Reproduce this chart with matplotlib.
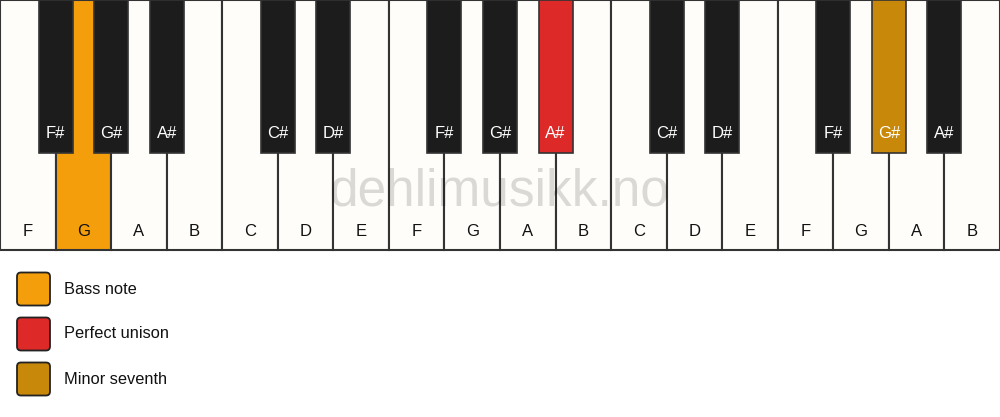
import matplotlib
matplotlib.use("Agg")
import matplotlib.pyplot as plt
from matplotlib.patches import Rectangle, FancyBboxPatch

plt.rcParams["font.family"] = ["Liberation Sans", "DejaVu Sans"]

W, H = 1000, 417

# ---------------------------------------------------------------- data
WHITE_NOTES = ["F", "G", "A", "B", "C", "D", "E",
               "F", "G", "A", "B", "C", "D", "E",
               "F", "G", "A", "B"]
# black key sits on the boundary after white key index i
BLACK_AFTER = [0, 1, 2, 4, 5, 7, 8, 9, 11, 12, 14, 15, 16]
BLACK_NOTES = ["F#", "G#", "A#", "C#", "D#", "F#", "G#", "A#",
               "C#", "D#", "F#", "G#", "A#"]
HIGHLIGHT_WHITE = {1: "bass"}
HIGHLIGHT_BLACK = {7: "unison", 11: "seventh"}
LEGEND_KEYS = ["bass", "unison", "seventh"]
LEGEND_LABELS = ["Bass note", "Perfect unison", "Minor seventh"]
COLORS = {"bass": "#f59e0c", "unison": "#dd2a28", "seventh": "#c8880a"}

WHITE_FACE = "#fefdfa"
BLACK_FACE = "#1c1c1c"
EDGE = "#333333"

fig = plt.figure(figsize=(W / 100, H / 100), dpi=100)
ax = fig.add_axes([0, 0, 1, 1])
ax.set_xlim(0, W)
ax.set_ylim(H, 0)
ax.axis("off")

kw = W / len(WHITE_NOTES)
white_h = 250
black_w, black_h = 34, 153

# white keys
for i, note in enumerate(WHITE_NOTES):
    face = COLORS[HIGHLIGHT_WHITE[i]] if i in HIGHLIGHT_WHITE else WHITE_FACE
    ax.add_patch(Rectangle((i * kw, 0), kw, white_h, facecolor=face,
                           edgecolor=EDGE, lw=1.5, zorder=1))
    ax.text((i + 0.5) * kw, 231, note, ha="center", va="center",
            fontsize=12, color="#111111", zorder=2)

# watermark
ax.text(500, 192, "dehlimusikk.no", ha="center", va="center",
        fontsize=37, color="black", alpha=0.14, zorder=3)

# black keys
for j, (pos, note) in enumerate(zip(BLACK_AFTER, BLACK_NOTES)):
    cx = (pos + 1) * kw
    face = COLORS[HIGHLIGHT_BLACK[j]] if j in HIGHLIGHT_BLACK else BLACK_FACE
    ax.add_patch(Rectangle((cx - black_w / 2, 0), black_w, black_h,
                           facecolor=face, edgecolor=EDGE, lw=1.2, zorder=4))
    ax.text(cx, 133, note, ha="center", va="center", fontsize=12,
            color="white", zorder=5)

# legend
for k, (key, label) in enumerate(zip(LEGEND_KEYS, LEGEND_LABELS)):
    cy = 289 + k * 45
    ax.add_patch(FancyBboxPatch((17 + 4, cy - 16.5 + 4), 33 - 8, 33 - 8,
                                boxstyle="round,pad=4",
                                facecolor=COLORS[key], edgecolor="#222222",
                                lw=1.3, zorder=2))
    ax.text(64, cy, label, ha="left", va="center", fontsize=11.8,
            color="#111111")

fig.savefig("out.png", dpi=100)
